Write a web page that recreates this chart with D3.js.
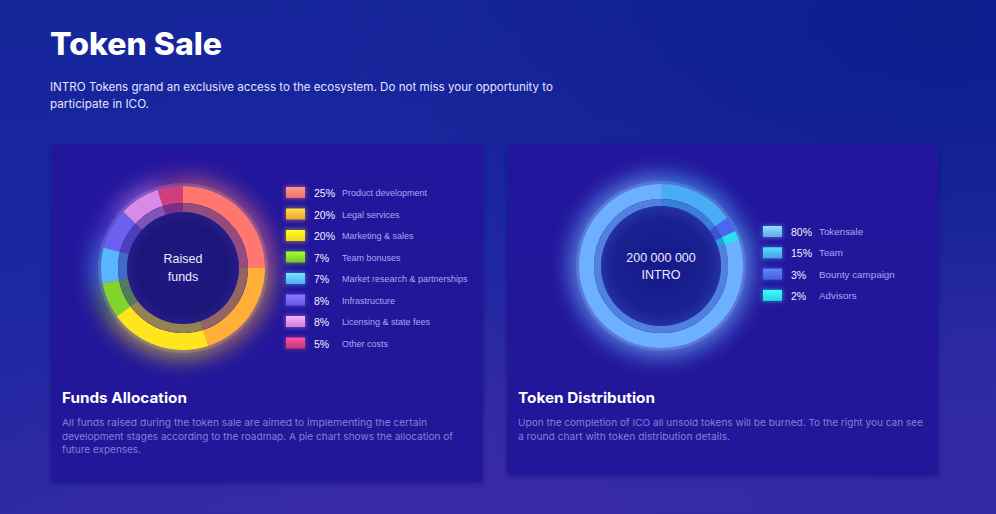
<!DOCTYPE html>
<html><head><meta charset="utf-8">
<script src="https://cdn.jsdelivr.net/npm/d3@7/dist/d3.min.js"></script>
<style>html,body{margin:0;padding:0;background:#16259a;overflow:hidden}</style>
</head><body><svg id="c" width="996" height="514"></svg>
<script>
// ---- data ----
const fundsCategories = ["Product development","Legal services","Marketing & sales","Team bonuses","Market research & partnerships","Infrastructure","Licensing & state fees","Other costs"];
const fundsValues = [25,20,20,7,7,8,8,5];
const fundsColors = ["#ff776f","#ffae38","#ffe51e","#80d42c","#58b6ff","#6d5ff0","#d98ae6","#cf3f7e"];
const tokenCategories = ["Tokensale","Team","Bounty campaign","Advisors"];
const tokenValues = [80,15,3,2];
const tokenColors = ["#6cb0ff","#48acf6","#4a68ee","#2ee0f2"];
// drawing order of token ring (clockwise from top)
const tokenOrder = [1,2,3,0];

const svg = d3.select("#c");
const defs = svg.append("defs");

// background gradient
const bg = defs.append("linearGradient").attr("id","bg").attr("x1","0").attr("y1","0").attr("x2","0.25").attr("y2","1");
bg.append("stop").attr("offset","0").attr("stop-color","#15259a");
bg.append("stop").attr("offset","0.55").attr("stop-color","#1c27a0");
bg.append("stop").attr("offset","1").attr("stop-color","#3129a6");
svg.append("rect").attr("width",996).attr("height",514).attr("fill","url(#bg)");
const bg2 = defs.append("radialGradient").attr("id","bg2").attr("cx","0.95").attr("cy","0.05").attr("r","0.6");
bg2.append("stop").attr("offset","0").attr("stop-color","#0a1d8c").attr("stop-opacity",0.9);
bg2.append("stop").attr("offset","1").attr("stop-color","#0a1d8c").attr("stop-opacity",0);
svg.append("rect").attr("width",996).attr("height",514).attr("fill","url(#bg2)");
const bg3 = defs.append("radialGradient").attr("id","bg3").attr("cx","0.45").attr("cy","1").attr("r","0.5");
bg3.append("stop").attr("offset","0").attr("stop-color","#3c2aa8").attr("stop-opacity",0.8);
bg3.append("stop").attr("offset","1").attr("stop-color","#3c2aa8").attr("stop-opacity",0);
svg.append("rect").attr("width",996).attr("height",514).attr("fill","url(#bg3)");

// filters
const blur = defs.append("filter").attr("id","blur").attr("x","-50%").attr("y","-50%").attr("width","200%").attr("height","200%");
blur.append("feGaussianBlur").attr("stdDeviation",11);
const blurS = defs.append("filter").attr("id","blurS").attr("x","-50%").attr("y","-50%").attr("width","200%").attr("height","200%");
blurS.append("feGaussianBlur").attr("stdDeviation",2);
const shadow = defs.append("filter").attr("id","shadow").attr("x","-10%").attr("y","-10%").attr("width","120%").attr("height","120%");
shadow.append("feDropShadow").attr("dx",0).attr("dy",2).attr("stdDeviation",3).attr("flood-color","#0a0850").attr("flood-opacity",0.35);

// cards
const cardG = defs.append("linearGradient").attr("id","card").attr("x1","0").attr("y1","0").attr("x2","0").attr("y2","1");
cardG.append("stop").attr("offset","0").attr("stop-color","#24179c");
cardG.append("stop").attr("offset","1").attr("stop-color","#24169a");
svg.append("rect").attr("x",51).attr("y",145).attr("width",432).attr("height",337).attr("rx",3).attr("fill","url(#card)").attr("filter","url(#shadow)");
svg.append("rect").attr("x",507).attr("y",145).attr("width",431).attr("height",330).attr("rx",3).attr("fill","url(#card)").attr("filter","url(#shadow)");

// header
const headFont = "Inter, 'Open Sans', sans-serif";
svg.append("text").attr("x",50).attr("y",55).attr("font-family",headFont).attr("font-weight",800)
  .attr("font-size",31).attr("fill","#ffffff").attr("textLength",172).attr("lengthAdjust","spacingAndGlyphs").text("Token Sale");
const sub = ["INTRO Tokens grand an exclusive access to the ecosystem. Do not miss your opportunity to","participate in ICO."];
const subW = [503, 99];
sub.forEach((t,i)=>svg.append("text").attr("x",50).attr("y",91+i*17).attr("font-family",headFont).attr("font-size",11.3)
  .attr("fill","#e4e4ff").attr("textLength",subW[i]).attr("lengthAdjust","spacingAndGlyphs").text(t));

// card texts
function cardText(x, title, titleW, lines, widths){
  svg.append("text").attr("x",x).attr("y",403).attr("font-family",headFont).attr("font-weight",700).attr("font-size",14.5)
    .attr("fill","#ffffff").attr("textLength",titleW).attr("lengthAdjust","spacingAndGlyphs").text(title);
  lines.forEach((t,i)=>svg.append("text").attr("x",x).attr("y",426+i*13.5).attr("font-family",headFont).attr("font-size",9.4)
    .attr("fill","#8580d6").attr("textLength",widths[i]).attr("lengthAdjust","spacingAndGlyphs").text(t));
}
cardText(62,"Funds Allocation",125,
  ["All funds raised during the token sale are aimed to implementing the certain","development stages according to the roadmap. A pie chart shows the allocation of","future expenses."],
  [365,391,79]);
cardText(518,"Token Distribution",137,
  ["Upon the completion of ICO all unsold tokens will be burned. To the right you can see","a round chart with token distribution details."],
  [405,212]);

// donut helper
function donut(cx, cy, values, colors, opts){
  const g = svg.append("g").attr("transform",`translate(${cx},${cy})`);
  const pie = d3.pie().sort(null).value(d=>d.v);
  const arcsData = pie(values.map((v,i)=>({v, c:colors[i]})));
  const outer = d3.arc().innerRadius(opts.r1).outerRadius(opts.r2);
  const inner = d3.arc().innerRadius(opts.r0).outerRadius(opts.r1);
  const glowArc = d3.arc().innerRadius(opts.r0-4).outerRadius(opts.r2+8);
  // glow
  g.append("g").attr("filter","url(#blur)").attr("opacity",opts.glowOp)
    .selectAll("path").data(arcsData).join("path").attr("d",glowArc).attr("fill",d=>d.data.c);
  // faint rim
  g.append("circle").attr("r",opts.r2+1.5).attr("fill","none").attr("stroke","#ffffff").attr("stroke-opacity",0.12).attr("stroke-width",3);
  // outer band
  g.append("g").selectAll("path").data(arcsData).join("path").attr("d",outer).attr("fill",d=>d.data.c);
  // inner darker band
  g.append("circle").attr("r",(opts.r0+opts.r1)/2).attr("fill","none").attr("stroke",opts.innerBase).attr("stroke-width",opts.r1-opts.r0);
  g.append("g").selectAll("path").data(arcsData).join("path").attr("d",inner).attr("fill",d=>d.data.c).attr("opacity",opts.innerOp);
  // center disc
  const rg = defs.append("radialGradient").attr("id",opts.id+"c");
  rg.append("stop").attr("offset","0").attr("stop-color",opts.c0);
  rg.append("stop").attr("offset","0.8").attr("stop-color",opts.c1);
  rg.append("stop").attr("offset","1").attr("stop-color",opts.c2);
  g.append("circle").attr("r",opts.r0).attr("fill",`url(#${opts.id}c)`);
  opts.label.forEach((t,i)=>g.append("text").attr("x",0).attr("y",opts.labelY[i]).attr("text-anchor","middle")
    .attr("font-family","'Liberation Sans', Arial, sans-serif").attr("font-size",opts.labelSize).attr("fill","#ecebff").text(t));
  return g;
}

donut(183, 268, fundsValues, fundsColors, {id:"f", r0:56, r1:65, r2:82, glowOp:0.6, innerOp:0.5, innerBase:"#2a1f8a",
  c0:"#1e1880", c1:"#1d1679", c2:"#251c88", label:["Raised","funds"], labelY:[-5,13], labelSize:12.5});
donut(661, 266, tokenOrder.map(i=>tokenValues[i]), tokenOrder.map(i=>tokenColors[i]), {id:"t", r0:60, r1:67, r2:82, glowOp:0.75, innerOp:0.6, innerBase:"#2a3ab0",
  c0:"#13188a", c1:"#1a2290", c2:"#2332a4", label:["200 000 000","INTRO"], labelY:[-4,13], labelSize:12.5});

// legends
function legend(x, y0, step, cats, vals, colors, id, pctSize, labSize, pctDx, labDx){
  cats.forEach((c,i)=>{
    const gid = id+"s"+i;
    const lg = defs.append("linearGradient").attr("id",gid).attr("x1",0).attr("y1",0).attr("x2",0).attr("y2",1);
    const base = d3.color(colors[i]);
    lg.append("stop").attr("offset",0).attr("stop-color",base.brighter(0.7).formatHex());
    lg.append("stop").attr("offset",1).attr("stop-color",base.darker(0.2).formatHex());
    const y = y0 + i*step;
    svg.append("rect").attr("x",x-1).attr("y",y-7).attr("width",21).attr("height",13).attr("fill",colors[i]).attr("opacity",0.45).attr("filter","url(#blurS)");
    svg.append("rect").attr("x",x).attr("y",y-6).attr("width",19).attr("height",11).attr("fill",`url(#${gid})`);
    svg.append("text").attr("x",x+pctDx).attr("y",y+4).attr("font-family","'Liberation Sans', Arial, sans-serif")
      .attr("font-size",pctSize).attr("fill","#f2f2ff").text(vals[i]+"%");
    svg.append("text").attr("x",x+labDx).attr("y",y+3).attr("font-family","'Liberation Sans', Arial, sans-serif")
      .attr("font-size",labSize).attr("fill","#a9a7f2").text(c);
  });
}
legend(286, 193, 21.5, fundsCategories, fundsValues, fundsColors, "lf", 10.5, 9, 28, 56);
legend(763, 232, 21.3, tokenCategories, tokenValues, tokenColors, "lt", 10.5, 9.8, 28, 56);
</script></body></html>
